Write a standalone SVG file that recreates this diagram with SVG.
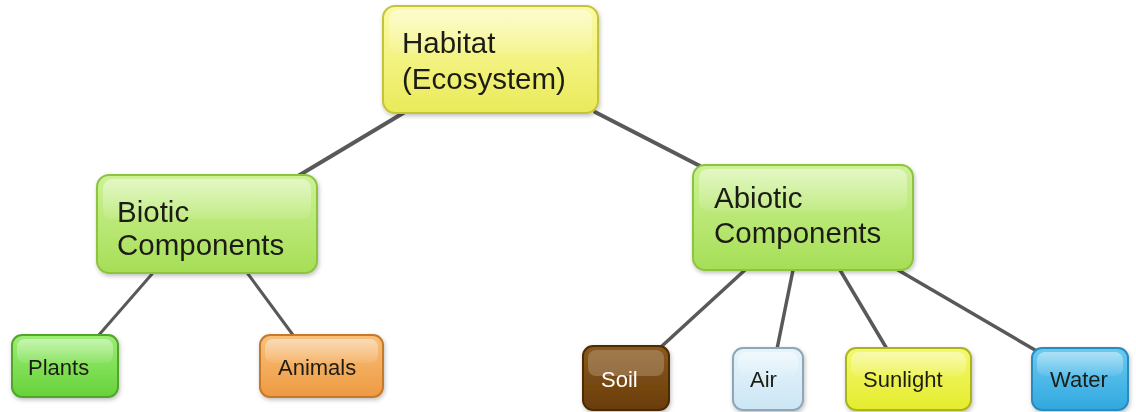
<svg xmlns="http://www.w3.org/2000/svg" width="1136" height="412" viewBox="0 0 1136 412">
<defs>
<filter id="sh" x="-10%" y="-10%" width="125%" height="130%">
<feDropShadow dx="1" dy="2" stdDeviation="2" flood-color="#000" flood-opacity="0.25"/>
</filter>
<linearGradient id="gY" x1="0" y1="0" x2="0" y2="1"><stop offset="0" stop-color="#fbfaa8"/><stop offset="1" stop-color="#eaea5a"/></linearGradient>
<linearGradient id="gG" x1="0" y1="0" x2="0" y2="1"><stop offset="0" stop-color="#cdf296"/><stop offset="1" stop-color="#a6de56"/></linearGradient>
<linearGradient id="gP" x1="0" y1="0" x2="0" y2="1"><stop offset="0" stop-color="#9cee74"/><stop offset="1" stop-color="#66d23a"/></linearGradient>
<linearGradient id="gO" x1="0" y1="0" x2="0" y2="1"><stop offset="0" stop-color="#f8c07c"/><stop offset="1" stop-color="#ee9a40"/></linearGradient>
<linearGradient id="gB" x1="0" y1="0" x2="0" y2="1"><stop offset="0" stop-color="#8a5a20"/><stop offset="1" stop-color="#6a3c08"/></linearGradient>
<linearGradient id="gA" x1="0" y1="0" x2="0" y2="1"><stop offset="0" stop-color="#e6f4fc"/><stop offset="1" stop-color="#cce6f4"/></linearGradient>
<linearGradient id="gS" x1="0" y1="0" x2="0" y2="1"><stop offset="0" stop-color="#f4f870"/><stop offset="1" stop-color="#e4ec2c"/></linearGradient>
<linearGradient id="gW" x1="0" y1="0" x2="0" y2="1"><stop offset="0" stop-color="#6ccaf0"/><stop offset="1" stop-color="#30a8e0"/></linearGradient>
<linearGradient id="gl" x1="0" y1="0" x2="0" y2="1"><stop offset="0" stop-color="#fff" stop-opacity="0.45"/><stop offset="1" stop-color="#fff" stop-opacity="0.08"/></linearGradient>
</defs>
<style>
.c{stroke:#595959;stroke-linecap:round;fill:none}
.t{font-family:"Liberation Sans",Arial,sans-serif;fill:#1e1e14}
.big{font-size:29.5px}
.sm{font-size:22px}
.gloss{fill:url(#gl)}
</style>
<rect width="1136" height="412" fill="#fff"/>
<g id="connectors">
<line class="c" stroke-width="4" x1="405" y1="112" x2="298" y2="176"/>
<line class="c" stroke-width="4" x1="595" y1="112" x2="700" y2="166"/>
<line class="c" stroke-width="3" x1="152" y1="274" x2="98" y2="336"/>
<line class="c" stroke-width="3" x1="248" y1="274" x2="293" y2="335"/>
<line class="c" stroke-width="3.5" x1="745" y1="270" x2="662" y2="346"/>
<line class="c" stroke-width="3.5" x1="793" y1="270" x2="777" y2="349"/>
<line class="c" stroke-width="3.5" x1="840" y1="270" x2="887" y2="349"/>
<line class="c" stroke-width="3.5" x1="898" y1="270" x2="1035" y2="350"/>
</g>
<g id="habitat" filter="url(#sh)">
<rect x="383" y="6" width="215" height="107" rx="12" fill="url(#gY)" stroke="#c4c43a" stroke-width="2"/>
<rect x="389" y="10" width="203" height="44" rx="9" class="gloss"/>
<text class="t big" x="402" y="53">Habitat</text>
<text class="t big" x="402" y="89">(Ecosystem)</text>
</g>
<g id="biotic" filter="url(#sh)">
<rect x="97" y="175" width="220" height="98" rx="12" fill="url(#gG)" stroke="#8cc43c" stroke-width="2"/>
<rect x="103" y="179" width="208" height="40" rx="9" class="gloss"/>
<text class="t big" x="117" y="222">Biotic</text>
<text class="t big" x="117" y="255">Components</text>
</g>
<g id="abiotic" filter="url(#sh)">
<rect x="693" y="165" width="220" height="105" rx="12" fill="url(#gG)" stroke="#8cc43c" stroke-width="2"/>
<rect x="699" y="169" width="208" height="42" rx="9" class="gloss"/>
<text class="t big" x="714" y="208">Abiotic</text>
<text class="t big" x="714" y="243">Components</text>
</g>
<g id="plants" filter="url(#sh)">
<rect x="12" y="335" width="106" height="62" rx="10" fill="url(#gP)" stroke="#52a42c" stroke-width="2"/>
<rect x="17" y="339" width="96" height="24" rx="8" class="gloss"/>
<text class="t sm" x="28" y="375">Plants</text>
</g>
<g id="animals" filter="url(#sh)">
<rect x="260" y="335" width="123" height="62" rx="10" fill="url(#gO)" stroke="#c47a2a" stroke-width="2"/>
<rect x="265" y="339" width="113" height="24" rx="8" class="gloss"/>
<text class="t sm" x="278" y="375">Animals</text>
</g>
<g id="soil" filter="url(#sh)">
<rect x="583" y="346" width="86" height="64" rx="10" fill="url(#gB)" stroke="#4e2c06" stroke-width="2"/>
<rect x="588" y="350" width="76" height="26" rx="8" fill="#fff" fill-opacity="0.2"/>
<text class="sm" x="601" y="387" font-family="Liberation Sans,Arial,sans-serif" fill="#fff">Soil</text>
</g>
<g id="air" filter="url(#sh)">
<rect x="733" y="348" width="70" height="62" rx="10" fill="url(#gA)" stroke="#8fa6b6" stroke-width="2"/>
<rect x="738" y="352" width="60" height="24" rx="8" class="gloss"/>
<text class="t sm" x="750" y="387">Air</text>
</g>
<g id="sunlight" filter="url(#sh)">
<rect x="846" y="348" width="125" height="62" rx="10" fill="url(#gS)" stroke="#aab41e" stroke-width="2"/>
<rect x="851" y="352" width="115" height="24" rx="8" class="gloss"/>
<text class="t sm" x="863" y="387">Sunlight</text>
</g>
<g id="water" filter="url(#sh)">
<rect x="1032" y="348" width="96" height="62" rx="10" fill="url(#gW)" stroke="#2a8cbc" stroke-width="2"/>
<rect x="1037" y="352" width="86" height="24" rx="8" class="gloss"/>
<text class="t sm" x="1050" y="387">Water</text>
</g>
</svg>
